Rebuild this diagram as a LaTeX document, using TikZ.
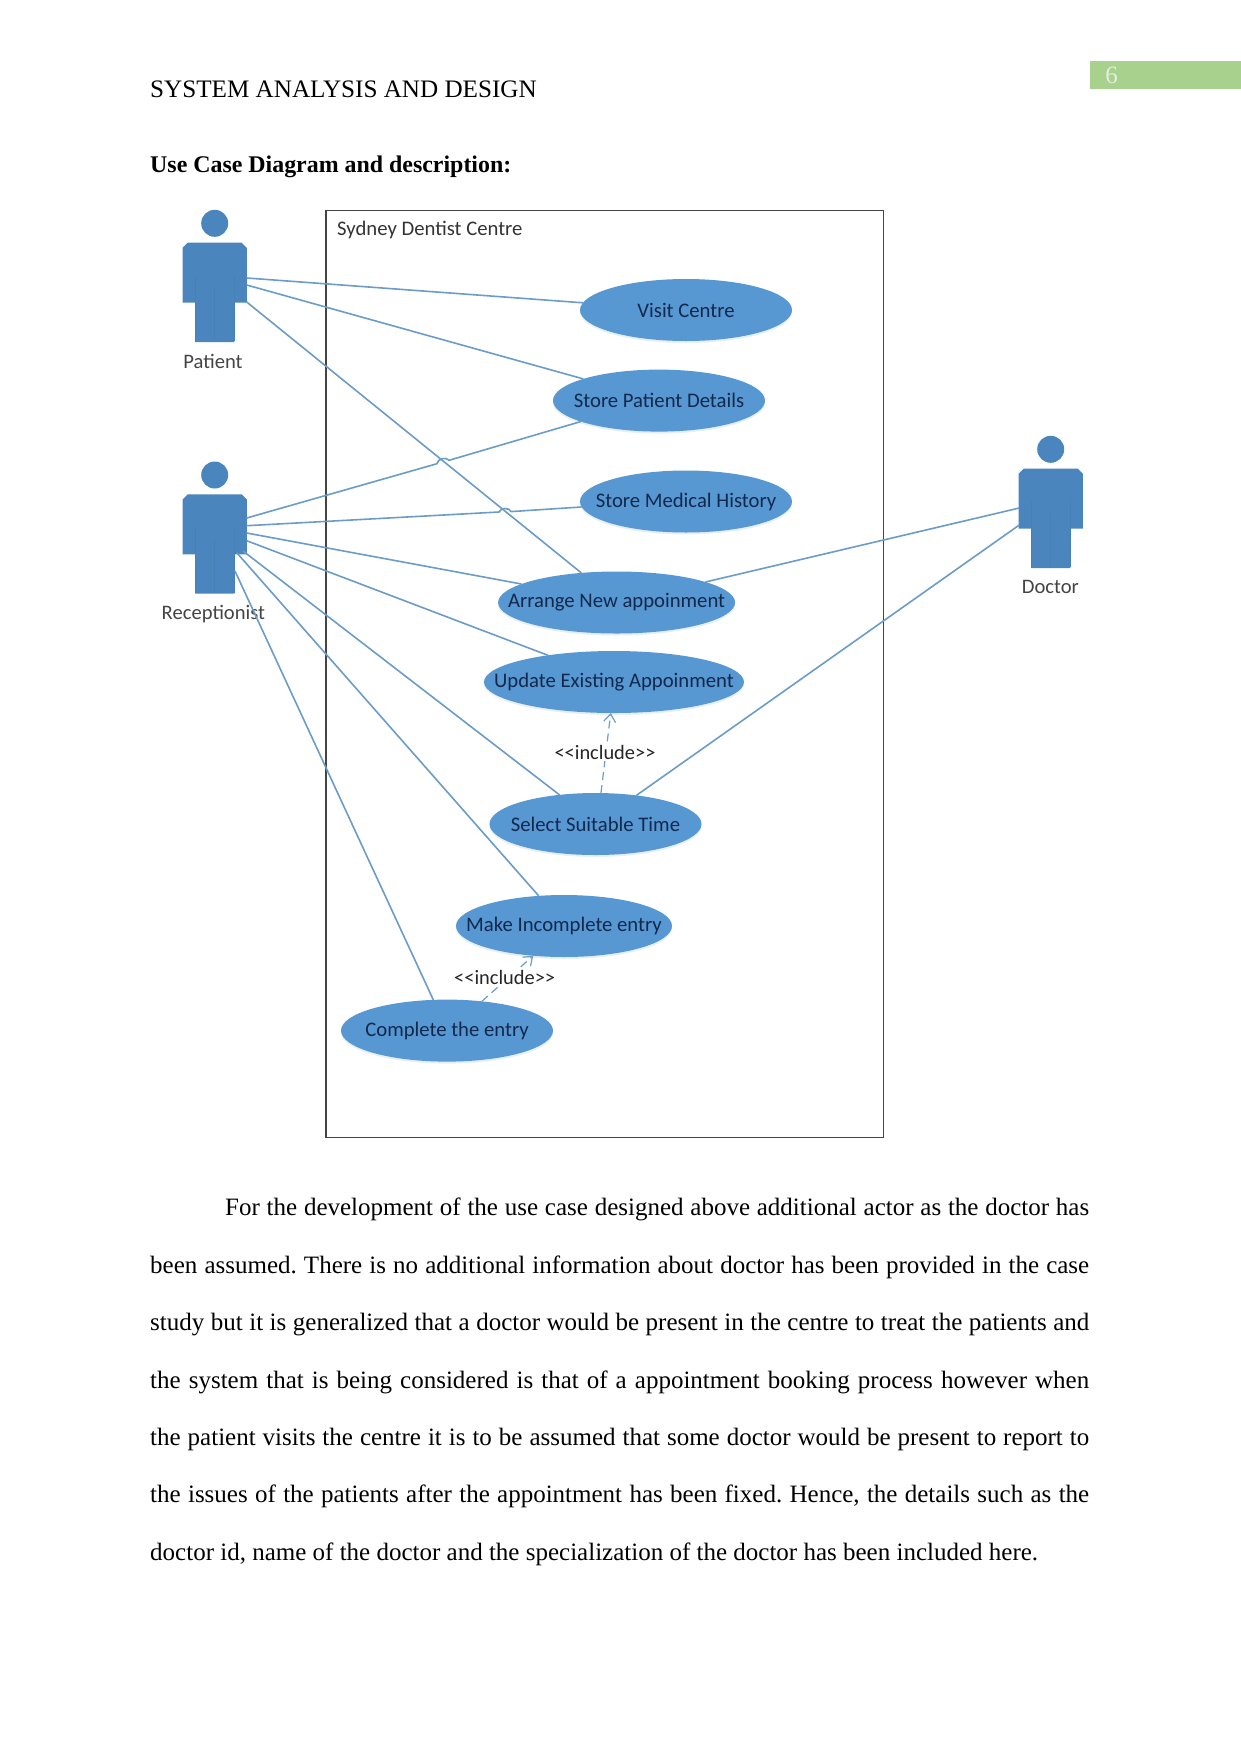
\documentclass[tikz,border=0pt]{standalone}
\usepackage{fontspec}
\setmainfont{Liberation Serif}
\newfontfamily\diagfont{Carlito}
\usetikzlibrary{shapes.geometric,arrows.meta,shadows}
\definecolor{actorblue}{HTML}{4A86BD}
\definecolor{actorline}{HTML}{4580B6}
\definecolor{caseblue}{HTML}{5797D2}
\definecolor{casetext}{HTML}{12294D}
\definecolor{wireblue}{HTML}{6B9CC8}
\definecolor{framegrey}{HTML}{444444}
\definecolor{pagegreen}{HTML}{A9D18E}
\definecolor{pagenum}{HTML}{E2F0D9}
% centred label that leaves the size of its ellipse untouched
\newcommand{\caselabel}[1]{\makebox[0pt]{#1}}
\tikzset{
  x=1pt,y=-1pt,
  usecase/.style={ellipse,fill=caseblue,inner sep=0pt,outer sep=0pt,
    minimum width=212pt,minimum height=62pt,text=casetext,
    font=\diagfont\fontsize{20.7}{24}\selectfont,
    drop shadow={shadow xshift=0pt,shadow yshift=-2pt,fill=caseblue,opacity=.15}},
  assoc/.style={draw=wireblue,line width=1.6pt},
  incl/.style={draw=wireblue,line width=1.2pt,dash pattern=on 8pt off 5pt,
    -{Straight Barb[length=8pt,width=12pt]}},
  actorname/.style={text=framegrey,font=\diagfont\fontsize{20.6}{24}\selectfont,inner sep=0pt},
  incllabel/.style={fill=white,inner sep=1pt,text=black!85,
    font=\diagfont\fontsize{20.4}{24}\selectfont},
  bodytext/.style={font=\fontsize{25}{30}\selectfont,inner sep=0pt},
  actor/.pic={
    \fill[actorblue] (0,0) circle[radius=13.5];
    \fill[actorblue] (-27,19.4) -- (27,19.4) -- (32.2,24.6) -- (32.2,79.4) -- (19.7,79.4)
      -- (19.7,118.7) -- (-19.7,118.7) -- (-19.7,79.4) -- (-32.2,79.4) -- (-32.2,24.6) -- cycle;
    \draw[actorline,line width=.8pt] (-19.7,53) -- (-19.7,118) (19.7,53) -- (19.7,118) (0,64) -- (0,118);
  }
}
\begin{document}
\begin{tikzpicture}
\useasboundingbox (0,0) rectangle (1241,1754);

% page header
\fill[pagegreen] (1090,60.7) rectangle (1241,89.3);
\node[bodytext,text=pagenum] (pageno) at (1111.7,75) {6};
\node[bodytext,anchor=base west,font=\fontsize{25.15}{30}\selectfont] (header) at (150,97) {SYSTEM ANALYSIS AND DESIGN};
\node[bodytext,anchor=base west,font=\fontsize{23.9}{30}\selectfont] (heading) at (150,172.5) {\textbf{Use Case Diagram and description:}};

% system boundary
\node[draw=framegrey,line width=1.3pt,inner sep=0pt,minimum width=557.7pt,minimum height=927pt,anchor=north west] (system) at (325.3,210) {};
\node[anchor=west,inner sep=0pt,text=black!80,font=\diagfont\fontsize{20.7}{24}\selectfont] (systemname) at (337,230) {Sydney Dentist Centre};

% actors
\pic at (214.7,223.3) {actor};
\pic at (214.7,475) {actor};
\pic at (1050.7,449.3) {actor};
\node[actorname] (patient) at (213,361) {Patient};
\node[actorname] (receptionist) at (213.4,614) {Receptionist};
\node[actorname] (doctor) at (1050.4,587) {Doctor};

% attachment points on the actors
\coordinate (p1) at (246.7,278);
\coordinate (p2) at (246.7,285);
\coordinate (p3) at (246.7,302);
\coordinate (r1) at (246.7,518);
\coordinate (r2) at (246.7,525.7);
\coordinate (r3) at (246.7,533);
\coordinate (r4) at (246.7,540.7);
\coordinate (r5) at (243,551);
\coordinate (r6) at (237,553);
\coordinate (r7) at (235,571);
\coordinate (d1) at (1019.3,508);
\coordinate (d2) at (1019.3,525);

% line hops where associations cross
\coordinate (hopa) at (437,463.7);
\coordinate (hopb) at (449,460.3);
\coordinate (hopc) at (499,512);
\coordinate (hopd) at (511,511.6);

% use cases
\node[usecase] (visit) at (686,310) {\caselabel{Visit Centre}};
\node[usecase] (storepatient) at (659,400.6) {\caselabel{Store Patient Details}};
\node[usecase] (storemedical) at (686,501.5) {\caselabel{Store Medical History}};
\node[usecase,minimum width=237pt] (arrange) at (616.6,602.5) {\caselabel{Arrange New appoinment}};
\node[usecase,minimum width=260pt] (update) at (614,682) {\caselabel{Update Existing Appoinment}};
\node[usecase] (select) at (595.5,824) {\caselabel{Select Suitable Time}};
\node[usecase,minimum width=216pt] (make) at (564,926) {\caselabel{Make Incomplete entry}};
\node[usecase] (complete) at (447,1030.6) {\caselabel{Complete the entry}};

% associations
\draw[assoc] (p1) -- (visit.176.2);
\draw[assoc] (p2) -- (storepatient.164.4);
\draw[assoc] (p3) -- (arrange.140.5);
\draw[assoc] (r1) -- (hopa) to[bend left=70] (hopb) -- (storepatient.195.8);
\draw[assoc] (r2) -- (hopc) to[bend left=70] (hopd) -- (storemedical.183.6);
\draw[assoc] (r3) -- (arrange.169.2);
\draw[assoc] (r4) -- (update.158.7);
\draw[assoc] (r5) -- (select.141.5);
\draw[assoc] (r6) -- (make.130.5);
\draw[assoc] (r7) -- (complete.114);
\draw[assoc] (d1) -- (arrange.13.1);
\draw[assoc] (d2) -- (select.35.9);

% include dependencies
\draw[incl] (select.80.7) -- (update.264.6);
\draw[incl] (complete.40.6) -- (make.224);
\node[incllabel] (inclone) at (605,752.5) {<{}<include>{}>};
\node[incllabel] (incltwo) at (504.7,977) {<{}<include>{}>};

% description paragraph
\node[bodytext,anchor=north west,text width=939pt,align=justify] (description) at (150,1198) {%
  \frenchspacing\setlength{\parindent}{75pt}\fontsize{25}{57.4}\selectfont\indent
  For the development of the use case designed above additional actor as the doctor has\linebreak
  been assumed. There is no additional information about doctor has been provided in the case\linebreak
  study but it is generalized that a doctor would be present in the centre to treat the patients and\linebreak
  the system that is being considered is that of a appointment booking process however when\linebreak
  the patient visits the centre it is to be assumed that some doctor would be present to report to\linebreak
  the issues of the patients after the appointment has been fixed. Hence, the details such as the\linebreak
  doctor id, name of the doctor and the specialization of the doctor has been included here.\par};
\end{tikzpicture}
\end{document}
